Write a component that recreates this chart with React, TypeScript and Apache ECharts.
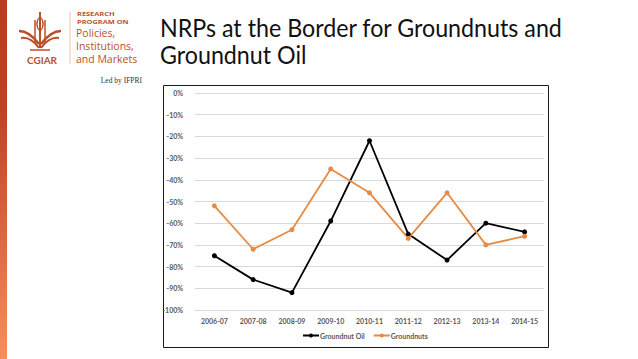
import React, { useEffect, useRef } from "react";
import * as echarts from "echarts";

const categories = ["2006-07", "2007-08", "2008-09", "2009-10", "2010-11", "2011-12", "2012-13", "2013-14", "2014-15"];
const groundnutOil = [-75, -86, -92, -59, -22, -65, -77, -60, -64];
const groundnuts = [-52, -72, -63, -35, -46, -67, -46, -70, -66];
const seriesNames = ["Groundnut Oil", "Groundnuts"];
const titleLines = ["NRPs at the Border for Groundnuts and", "Groundnut Oil"];

const LOGO = "#B9502A";

export default function App() {
  const ref = useRef<HTMLDivElement>(null);
  useEffect(() => {
    if (!ref.current) return;
    const chart = echarts.init(ref.current, null, { renderer: "svg" });
    const axisFont = { fontFamily: "Lato, 'Open Sans', sans-serif", fontSize: 7, fontWeight: "bold" as const, color: "#595959" };
    const logoText = (text: string, x: number, y: number, font: string, scaleX = 1) => ({
      type: "text",
      x,
      y,
      scaleX,
      style: { text, font, fill: LOGO },
    });
    chart.setOption({
      animation: false,
      backgroundColor: "#ffffff",
      grid: { left: 195, right: 94, top: 93, bottom: 49, containLabel: false },
      xAxis: {
        type: "category",
        data: categories,
        boundaryGap: true,
        axisLine: { show: false },
        axisTick: { show: false },
        axisLabel: { ...axisFont, margin: 7 },
      },
      yAxis: {
        type: "value",
        min: -100,
        max: 0,
        interval: 10,
        axisLine: { show: false },
        axisTick: { show: false },
        axisLabel: { ...axisFont, margin: 12, formatter: (v: number) => `${v}%` },
        splitLine: { lineStyle: { color: "#d9d9d9", width: 1 } },
      },
      legend: {
        data: seriesNames,
        bottom: 15,
        left: 297,
        itemWidth: 16,
        itemHeight: 5,
        itemGap: 8,
        textStyle: { ...axisFont, padding: [0, 0, 0, -4] },
      },
      series: [
        {
          name: seriesNames[0],
          type: "line",
          data: groundnutOil,
          symbol: "circle",
          symbolSize: 5,
          itemStyle: { color: "#000000" },
          lineStyle: { color: "#000000", width: 1.8 },
        },
        {
          name: seriesNames[1],
          type: "line",
          data: groundnuts,
          symbol: "circle",
          symbolSize: 5,
          itemStyle: { color: "#E58B45" },
          lineStyle: { color: "#E58B45", width: 1.8 },
        },
      ],
      graphic: [
        {
          type: "rect",
          shape: { x: 0, y: 0, width: 7, height: 359 },
          style: {
            fill: new echarts.graphic.LinearGradient(0, 0, 0, 1, [
              { offset: 0, color: "#B63E1E" },
              { offset: 0.3, color: "#BC4322" },
              { offset: 1, color: "#F5905A" },
            ]),
          },
          silent: true,
        },
        {
          type: "rect",
          shape: { x: 163.5, y: 85.5, width: 385, height: 262 },
          style: { fill: "none", stroke: "#1a1a1a", lineWidth: 1 },
          silent: true,
          z: -1,
        },
        {
          type: "text",
          x: 160,
          y: 14,
          scaleX: 0.93,
          style: {
            text: titleLines.join("\n"),
            font: "25px Lato, 'Open Sans', sans-serif",
            fill: "#111111",
            lineHeight: 27,
          },
        },
        // logo icon
        {
          type: "group",
          children: [
            { type: "line", shape: { x1: 40, y1: 12, x2: 40, y2: 48 }, style: { stroke: LOGO, lineWidth: 2 } },
            { type: "ellipse", shape: { cx: 40, cy: 24, rx: 3, ry: 6 }, style: { fill: "none", stroke: LOGO, lineWidth: 1.5 } },
            { type: "line", shape: { x1: 35, y1: 20, x2: 35, y2: 44 }, style: { stroke: LOGO, lineWidth: 1.5 } },
            { type: "line", shape: { x1: 45, y1: 20, x2: 45, y2: 44 }, style: { stroke: LOGO, lineWidth: 1.5 } },
            { type: "bezierCurve", shape: { x1: 19, y1: 31, cpx1: 26, cpy1: 31, cpx2: 33, cpy2: 36, x2: 39, y2: 44 }, style: { stroke: LOGO, lineWidth: 2.5, fill: "none" } },
            { type: "bezierCurve", shape: { x1: 61, y1: 31, cpx1: 54, cpy1: 31, cpx2: 47, cpy2: 36, x2: 41, y2: 44 }, style: { stroke: LOGO, lineWidth: 2.5, fill: "none" } },
            { type: "bezierCurve", shape: { x1: 21, y1: 38, cpx1: 28, cpy1: 37, cpx2: 34, cpy2: 41, x2: 39, y2: 48 }, style: { stroke: LOGO, lineWidth: 2, fill: "none" } },
            { type: "bezierCurve", shape: { x1: 59, y1: 38, cpx1: 52, cpy1: 37, cpx2: 46, cpy2: 41, x2: 41, y2: 48 }, style: { stroke: LOGO, lineWidth: 2, fill: "none" } },
            { type: "line", shape: { x1: 30, y1: 50, x2: 50, y2: 50 }, style: { stroke: LOGO, lineWidth: 1.5 } },
          ],
        },
        {
          type: "text",
          x: 42,
          y: 55,
          style: { text: "CGIAR", font: "bold 10px Lato, 'Open Sans', sans-serif", fill: LOGO, align: "center" },
        },
        { type: "line", shape: { x1: 70, y1: 12, x2: 70, y2: 64 }, style: { stroke: "#e6c3b5", lineWidth: 1 } },
        logoText("RESEARCH", 77, 11, "bold 5.5px 'Open Sans', sans-serif", 1.35),
        logoText("PROGRAM ON", 77, 19, "bold 5.5px 'Open Sans', sans-serif", 1.35),
        logoText("Policies,", 76, 27, "10.5px 'Open Sans', sans-serif"),
        logoText("Institutions,", 76, 40, "10.5px 'Open Sans', sans-serif"),
        logoText("and Markets", 76, 53, "10.5px 'Open Sans', sans-serif"),
        {
          type: "text",
          x: 142,
          y: 76,
          style: { text: "Led by IFPRI", font: "7.5px 'Liberation Serif', serif", fill: "#333333", align: "right" },
        },
      ],
    });
    return () => chart.dispose();
  }, []);
  return <div ref={ref} style={{ position: "absolute", left: 0, top: 0, width: 638, height: 359 }} />;
}
